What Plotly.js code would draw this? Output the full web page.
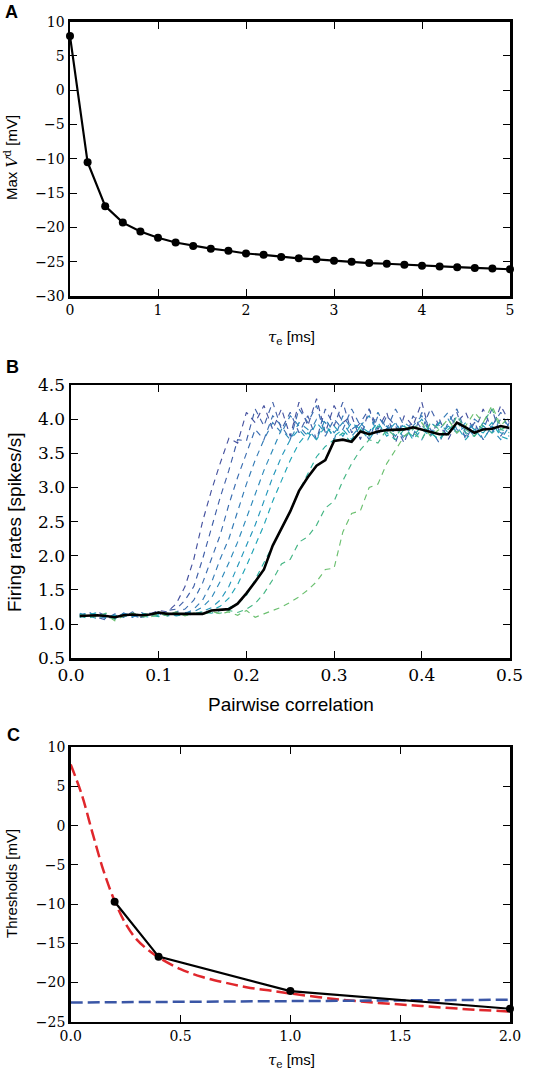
<!DOCTYPE html>
<html>
<head>
<meta charset="utf-8">
<script src="https://cdn.plot.ly/plotly-3.0.1.min.js"></script>
<style>html,body{margin:0;padding:0;background:#fff;}#chart{width:551px;height:1069px;}</style>
</head>
<body>
<div id="chart"></div>
<script>
// ---------- Panel A data ----------
var tauA = [0, 0.2, 0.4, 0.6, 0.8, 1.0, 1.2, 1.4, 1.6, 1.8, 2.0, 2.2, 2.4, 2.6, 2.8, 3.0, 3.2, 3.4, 3.6, 3.8, 4.0, 4.2, 4.4, 4.6, 4.8, 5.0];
var maxVd = [7.9, -10.5, -16.9, -19.3, -20.6, -21.5, -22.2, -22.7, -23.1, -23.4, -23.8, -24.0, -24.3, -24.5, -24.65, -24.85, -25.0, -25.2, -25.3, -25.45, -25.6, -25.7, -25.8, -25.9, -26.0, -26.1];

// ---------- Panel B data ----------
var corr = [0.01,0.02,0.03,0.04,0.05,0.06,0.07,0.08,0.09,0.10,0.11,0.12,0.13,0.14,0.15,0.16,0.17,0.18,0.19,0.20,0.21,0.22,0.23,0.24,0.25,0.26,0.27,0.28,0.29,0.30,0.31,0.32,0.33,0.34,0.35,0.36,0.37,0.38,0.39,0.40,0.41,0.42,0.43,0.44,0.45,0.46,0.47,0.48,0.49,0.50];
var rate1 = [1.15,1.10,1.18,1.12,1.08,1.16,1.12,1.10,1.15,1.20,1.18,1.30,1.55,1.95,2.50,2.95,3.35,3.72,3.65,4.10,3.95,4.20,3.85,4.15,3.75,4.25,3.90,4.30,3.80,4.20,3.95,4.05,3.70,4.15,3.85,4.10,3.65,4.05,3.90,4.25,3.75,4.00,3.70,3.95,4.10,3.80,4.15,3.85,4.20,3.95];
var rate2 = [1.12,1.18,1.10,1.06,1.14,1.10,1.18,1.12,1.16,1.13,1.20,1.22,1.35,1.55,1.95,2.40,2.85,3.25,3.70,3.68,4.15,3.90,4.25,3.85,4.10,3.80,4.05,3.70,4.15,3.90,4.25,3.80,3.95,4.15,3.75,4.05,3.90,3.65,4.05,3.85,4.15,3.90,3.75,4.10,3.70,3.95,3.85,4.15,3.75,3.95];
var rate3 = [1.10,1.16,1.13,1.08,1.15,1.12,1.10,1.17,1.12,1.15,1.13,1.18,1.22,1.35,1.60,1.95,2.30,2.75,3.15,3.50,3.85,3.70,4.05,3.90,3.70,4.15,3.95,4.20,3.75,4.00,3.85,4.15,3.90,3.70,4.05,3.85,4.15,3.90,3.75,4.10,3.85,3.65,3.95,4.15,3.80,3.95,3.70,3.90,4.10,3.85];
var rate4 = [1.14,1.11,1.15,1.10,1.12,1.16,1.13,1.09,1.14,1.18,1.14,1.16,1.15,1.22,1.35,1.60,1.95,2.25,2.65,3.05,3.40,3.70,3.95,3.80,4.05,3.90,3.75,4.00,3.95,3.70,4.05,3.85,3.95,3.80,4.10,3.85,3.95,3.70,3.90,4.05,3.80,3.95,4.10,3.85,3.75,4.00,3.90,3.80,4.00,3.90];
var rate5 = [1.16,1.12,1.08,1.14,1.10,1.15,1.11,1.16,1.13,1.12,1.15,1.13,1.17,1.18,1.25,1.38,1.62,1.90,2.20,2.55,2.90,3.25,3.55,3.85,3.70,3.95,3.85,3.70,4.00,3.80,3.95,3.75,3.90,4.05,3.80,3.90,3.75,3.95,3.85,3.70,3.95,3.85,4.00,3.80,3.90,3.75,3.95,3.85,3.70,3.90];
var rate6 = [1.13,1.17,1.10,1.12,1.08,1.13,1.16,1.11,1.14,1.16,1.12,1.14,1.16,1.13,1.18,1.24,1.35,1.55,1.85,2.15,2.45,2.80,3.15,3.45,3.70,3.85,3.70,3.95,3.80,3.90,3.75,3.95,3.85,3.70,3.90,3.80,3.95,3.75,3.85,4.00,3.80,3.70,3.90,3.80,3.95,3.85,3.70,3.90,3.80,3.75];
var rate7 = [1.10,1.14,1.17,1.09,1.13,1.11,1.15,1.12,1.10,1.14,1.16,1.12,1.15,1.17,1.14,1.20,1.26,1.38,1.58,1.85,2.15,2.45,2.80,3.10,3.40,3.65,3.80,3.70,3.90,3.75,3.85,3.70,3.90,3.80,3.95,3.75,3.85,3.90,3.70,3.85,3.75,3.95,3.80,3.90,3.70,3.85,3.80,3.95,3.75,3.70];
var rate8 = [1.12,1.08,1.15,1.13,1.10,1.14,1.12,1.16,1.13,1.11,1.14,1.17,1.13,1.15,1.18,1.16,1.20,1.24,1.30,1.42,1.65,1.90,2.15,2.40,2.65,2.95,3.20,3.45,3.60,3.70,3.80,3.65,3.85,3.75,3.90,3.80,3.70,3.85,3.75,3.90,3.80,3.70,3.85,3.95,3.80,3.75,3.90,3.80,3.85,3.80];
var rate9 = [1.14,1.10,1.12,1.16,1.07,1.12,1.15,1.10,1.13,1.17,1.12,1.15,1.13,1.16,1.14,1.18,1.16,1.20,1.17,1.22,1.30,1.45,1.65,1.88,1.95,2.20,2.28,2.45,2.70,2.80,3.10,3.35,3.55,3.70,3.65,3.85,3.75,3.90,3.80,3.70,3.95,3.85,3.75,4.05,3.85,3.75,3.95,4.15,3.85,3.90];
var rate10 = [1.11,1.15,1.09,1.13,1.05,1.12,1.16,1.13,1.10,1.15,1.13,1.18,1.12,1.16,1.14,1.19,1.15,1.18,1.13,1.20,1.10,1.15,1.20,1.25,1.32,1.40,1.50,1.62,1.80,1.82,2.35,2.62,2.66,3.00,3.05,3.35,3.55,3.75,3.85,3.95,3.75,3.85,4.00,3.80,3.90,4.10,3.95,4.20,3.90,4.05];
var rateMean = [1.12,1.13,1.13,1.12,1.10,1.13,1.14,1.13,1.14,1.17,1.15,1.15,1.15,1.16,1.15,1.20,1.21,1.22,1.30,1.45,1.62,1.80,2.15,2.40,2.65,2.95,3.15,3.32,3.40,3.68,3.70,3.67,3.82,3.78,3.82,3.84,3.85,3.85,3.88,3.85,3.82,3.78,3.78,3.95,3.88,3.80,3.85,3.86,3.90,3.87];
var rateSeries = [rate1, rate2, rate3, rate4, rate5, rate6, rate7, rate8, rate9, rate10];
var rateColors = ['#46529f','#4160a8','#3b6db0','#347bb6','#2c89ba','#2497bb','#1fa4b6','#2aae9e','#45b684','#6cc070'];

// ---------- Panel C data ----------
var tauC = [0.2, 0.4, 1.0, 2.0];
var thrC = [-9.7, -16.7, -21.1, -23.35];
var tauFit = [0, 0.05, 0.1, 0.15, 0.2, 0.25, 0.3, 0.35, 0.4, 0.5, 0.6, 0.7, 0.8, 0.9, 1.0, 1.2, 1.4, 1.6, 1.8, 2.0];
var thrFit = [7.8, 4.0, -1.0, -5.8, -9.6, -12.5, -14.5, -15.8, -16.8, -18.3, -19.3, -20.0, -20.6, -21.0, -21.4, -22.1, -22.6, -23.0, -23.4, -23.7];
var tauFlat = [0, 1.0, 2.0];
var thrFlat = [-22.55, -22.4, -22.2];

var W = 551, H = 1069;
function px(x){ return x / W; }
function py(y){ return 1 - y / H; }

var traces = [];
traces.push({x: tauA, y: maxVd, xaxis: 'x', yaxis: 'y', mode: 'lines+markers', cliponaxis: false,
  line: {color: '#000', width: 2.2}, marker: {color: '#000', size: 8}, showlegend: false, hoverinfo: 'skip'});

for (var i = 0; i < rateSeries.length; i++) {
  traces.push({x: corr, y: rateSeries[i], xaxis: 'x2', yaxis: 'y2', mode: 'lines',
    line: {color: rateColors[i], width: 1.15, dash: '6px,5px'}, showlegend: false, hoverinfo: 'skip'});
}
traces.push({x: corr, y: rateMean, xaxis: 'x2', yaxis: 'y2', mode: 'lines',
  line: {color: '#000', width: 2.6}, showlegend: false, hoverinfo: 'skip'});

traces.push({x: tauFit, y: thrFit, xaxis: 'x3', yaxis: 'y3', mode: 'lines', line: {color: '#e0272c', width: 2.5, dash: '12px,5px', shape: 'spline'}, showlegend: false, hoverinfo: 'skip'});
traces.push({x: tauFlat, y: thrFlat, xaxis: 'x3', yaxis: 'y3', mode: 'lines', line: {color: '#3a56a6', width: 2.5, dash: '12px,5px'}, showlegend: false, hoverinfo: 'skip'});
traces.push({x: tauC, y: thrC, xaxis: 'x3', yaxis: 'y3', mode: 'lines+markers', cliponaxis: false,
  line: {color: '#000', width: 2.2}, marker: {color: '#000', size: 8}, showlegend: false, hoverinfo: 'skip'});

function ax(domain, range, dtick, fsize, fmt, anchor) {
  return {domain: domain, range: range, dtick: dtick, tick0: 0, anchor: anchor,
    showline: true, linecolor: '#000', linewidth: 2.5, mirror: 'ticks',
    ticks: 'inside', ticklen: 7, tickwidth: 1, tickcolor: '#000',
    showgrid: false, zeroline: false, tickformat: fmt,
    tickfont: {family: 'DejaVu Serif', size: fsize, color: '#000'}, fixedrange: true};
}

var serif = "font-family:'DejaVu Serif'";
var tauLabel = '<span style="' + serif + ';font-style:italic">τ</span><sub><span style="' + serif + '">e</span></sub> [ms]';
var vdLabel = 'Max <span style="' + serif + ';font-style:italic">V</span><sup><span style="' + serif + '">d</span></sup> [mV]';
var sans = 'Liberation Sans, Arial, sans-serif';

var layout = {
  width: W, height: H, margin: {l: 0, r: 0, t: 0, b: 0},
  paper_bgcolor: '#fff', plot_bgcolor: '#fff', showlegend: false,
  xaxis: ax([px(70), px(510)], [0, 5], 1, 14, '', 'y'),
  yaxis: ax([py(296), py(21.7)], [-30, 10], 5, 14, '', 'x'),
  xaxis2: ax([px(71), px(509.5)], [0, 0.5], 0.1, 17, '.1f', 'y2'),
  yaxis2: ax([py(658.3), py(385)], [0.5, 4.5], 0.5, 17, '.1f', 'x2'),
  xaxis3: ax([px(70.7), px(510)], [0, 2], 0.5, 14, '.1f', 'y3'),
  yaxis3: ax([py(1021.7), py(747.3)], [-25, 10], 5, 14, '', 'x3'),
  annotations: [
    {text: '<b>A</b>', x: px(11), y: py(12), xref: 'paper', yref: 'paper', showarrow: false, xanchor: 'center', yanchor: 'middle', font: {family: sans, size: 18, color: '#000'}},
    {text: '<b>B</b>', x: px(12), y: py(367), xref: 'paper', yref: 'paper', showarrow: false, xanchor: 'center', yanchor: 'middle', font: {family: sans, size: 18, color: '#000'}},
    {text: '<b>C</b>', x: px(13), y: py(735), xref: 'paper', yref: 'paper', showarrow: false, xanchor: 'center', yanchor: 'middle', font: {family: sans, size: 18, color: '#000'}},
    {text: vdLabel, x: px(11), y: py(158), xref: 'paper', yref: 'paper', showarrow: false, textangle: -90, xanchor: 'center', yanchor: 'middle', font: {family: sans, size: 15, color: '#000'}},
    {text: tauLabel, x: px(291), y: py(337), xref: 'paper', yref: 'paper', showarrow: false, xanchor: 'center', yanchor: 'middle', font: {family: sans, size: 15, color: '#000'}},
    {text: 'Firing rates [spikes/s]', x: px(14), y: py(522), xref: 'paper', yref: 'paper', showarrow: false, textangle: -90, xanchor: 'center', yanchor: 'middle', font: {family: sans, size: 19, color: '#000'}},
    {text: 'Pairwise correlation', x: px(291), y: py(704), xref: 'paper', yref: 'paper', showarrow: false, xanchor: 'center', yanchor: 'middle', font: {family: sans, size: 19, color: '#000'}},
    {text: 'Thresholds [mV]', x: px(11), y: py(884), xref: 'paper', yref: 'paper', showarrow: false, textangle: -90, xanchor: 'center', yanchor: 'middle', font: {family: sans, size: 15, color: '#000'}},
    {text: tauLabel, x: px(291), y: py(1060), xref: 'paper', yref: 'paper', showarrow: false, xanchor: 'center', yanchor: 'middle', font: {family: sans, size: 15, color: '#000'}}
  ]
};

Plotly.newPlot('chart', traces, layout, {staticPlot: true, displayModeBar: false});
</script>
</body>
</html>
